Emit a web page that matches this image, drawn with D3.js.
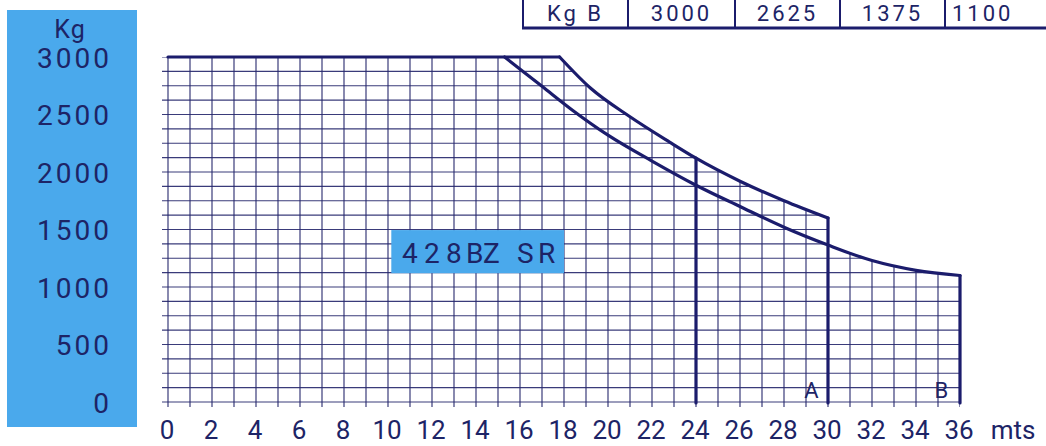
<!DOCTYPE html>
<html>
<head>
<meta charset="utf-8">
<script src="https://cdn.jsdelivr.net/npm/d3@7"></script>
<style>
  body { margin: 0; background: #fff; }
  svg { display: block; }
  text { font-family: Roboto, "DejaVu Sans", sans-serif; fill: #1d2466; }
</style>
</head>
<body>
<script>
// values
const distTicks = d3.range(0, 37, 2)
const kgTicks = [0, 500, 1000, 1500, 2000, 2500, 3000]
const gridDist = d3.range(0, 37, 1)
const gridKg = d3.range(0, 3001, 125)

// curve A (outer) and curve B (inner), metres -> kg
const curveA_m = [0, 17.8, 19.2, 21, 22.8, 24, 26, 28, 30]
const curveA_kg = [3000, 3000, 2730, 2480, 2260, 2120, 1920, 1750, 1600]
const curveB_m = [0, 15.3, 17, 18.4, 20, 22, 24, 26, 28, 30, 32, 34, 36]
const curveB_kg = [3000, 3000, 2745, 2535, 2320, 2095, 1885, 1700, 1520, 1365, 1230, 1145, 1100]

const tableHead = "Kg B"
const tableValues = [3000, 2625, 1375, 1100]
const modelName = "428BZ SR"

const W = 1046, H = 446
const navy = "#1b1c6c"
const blue = "#4aa9ec"

let svg = d3.select("body").append("svg")
    .attr("width", W)
    .attr("height", H)

let x = d3.scaleLinear().domain([0, 36]).range([168, 960])
let y = d3.scaleLinear().domain([0, 3000]).range([402, 57])

let ptsA = curveA_m.map((m, i) => [m, curveA_kg[i]])
let ptsB = curveB_m.map((m, i) => [m, curveB_kg[i]])

let straight = d3.line().x(d => x(d[0])).y(d => y(d[1]))
let smooth = d3.line().x(d => x(d[0])).y(d => y(d[1])).curve(d3.curveMonotoneX)

function kgAt(pts, m){
    let p = pts.find(d => d[0] == m)
    return p ? p[1] : 0
}

// blue panel behind the kg labels
svg.append("rect")
    .attr("x", 7).attr("y", 10)
    .attr("width", 130).attr("height", 417)
    .attr("fill", blue)

svg.append("text")
    .attr("x", 70).attr("y", 38)
    .attr("text-anchor", "middle")
    .attr("font-size", 25)
    .attr("letter-spacing", 1)
    .text("Kg")

svg.selectAll(".ylab")
    .data(kgTicks)
    .enter().append("text")
    .attr("class", "ylab")
    .attr("x", 112)
    .attr("y", d => y(d))
    .attr("dy", "0.38em")
    .attr("text-anchor", "end")
    .attr("font-size", 28)
    .attr("letter-spacing", 3)
    .text(d => d)

// clip region: area under the outer envelope
let tailB = ptsB.filter(d => d[0] >= 30)
let clipD = `M${x(0) - 6},${y(0) + 5}L${x(0) - 6},${y(3000)}`
    + straight(ptsA.slice(0, 2)).replace("M", "L")
    + smooth(ptsA.slice(1)).replace("M", "L")
    + smooth(tailB).replace("M", "L")
    + `L${x(36)},${y(0) + 5}Z`

svg.append("clipPath").attr("id", "under")
    .append("path").attr("d", clipD)

let grid = svg.append("g").attr("clip-path", "url(#under)")
    .attr("stroke", "#25266c")
    .attr("stroke-width", 1.2)
    .attr("stroke-opacity", 0.9)

grid.selectAll(".vl")
    .data(gridDist)
    .enter().append("line")
    .attr("x1", d => x(d)).attr("x2", d => x(d))
    .attr("y1", y(0) + 5).attr("y2", y(3000))

grid.selectAll(".hl")
    .data(gridKg)
    .enter().append("line")
    .attr("x1", x(0) - 6).attr("x2", x(36))
    .attr("y1", d => y(d)).attr("y2", d => y(d))

// model label box
svg.append("rect")
    .attr("x", x(10.15)).attr("y", y(1495))
    .attr("width", x(18) - x(10.15))
    .attr("height", y(1120) - y(1495))
    .attr("fill", blue)

svg.append("text")
    .attr("x", "402 424 446 466 483 501 517 538")
    .attr("y", y(1125) - 10)
    .attr("font-size", 28)
    .text(modelName)

// load curves
let lines = svg.append("g")
    .attr("fill", "none")
    .attr("stroke", navy)
    .attr("stroke-width", 3.2)
    .attr("stroke-linecap", "round")
    .attr("stroke-linejoin", "round")

lines.append("path").attr("d", straight(ptsA.slice(0, 2)))
lines.append("path").attr("d", smooth(ptsA.slice(1)))
lines.append("path").attr("d", smooth(ptsB.slice(1)))

let verticals = [[24, kgAt(ptsA, 24)], [30, kgAt(ptsA, 30)], [36, kgAt(ptsB, 36)]]
lines.selectAll(".vert")
    .data(verticals)
    .enter().append("line")
    .attr("x1", d => x(d[0])).attr("x2", d => x(d[0]))
    .attr("y1", d => y(d[1])).attr("y2", y(0) + 1)

svg.append("text").attr("x", x(29.25)).attr("y", 398)
    .attr("text-anchor", "middle").attr("font-size", 22).text("A")
svg.append("text").attr("x", x(35.15)).attr("y", 398)
    .attr("text-anchor", "middle").attr("font-size", 22).text("B")

// distance labels
svg.selectAll(".xlab")
    .data(distTicks)
    .enter().append("text")
    .attr("class", "xlab")
    .attr("x", d => x(d) - 1)
    .attr("y", 439)
    .attr("text-anchor", "middle")
    .attr("font-size", 26)
    .text(d => d)

svg.append("text")
    .attr("x", 1013).attr("y", 439)
    .attr("text-anchor", "middle")
    .attr("font-size", 26)
    .text("mts")

// table strip at the top right
let cellEdges = [523, 628, 735, 840, 945, 1052]
let cells = [tableHead].concat(tableValues)
let tbl = svg.append("g")
tbl.append("line")
    .attr("x1", cellEdges[0] - 1).attr("x2", W)
    .attr("y1", 28).attr("y2", 28)
    .attr("stroke", navy).attr("stroke-width", 3)
tbl.selectAll(".sep")
    .data(cellEdges.slice(0, 5))
    .enter().append("line")
    .attr("x1", d => d).attr("x2", d => d)
    .attr("y1", 0).attr("y2", 29)
    .attr("stroke", navy).attr("stroke-width", 2)
tbl.selectAll(".cell")
    .data(cells)
    .enter().append("text")
    .attr("x", (d, i) => i == 4 ? cellEdges[i] + 7 : (cellEdges[i] + cellEdges[i + 1]) / 2)
    .attr("y", 21)
    .attr("text-anchor", (d, i) => i == 4 ? "start" : "middle")
    .attr("font-size", 22)
    .attr("letter-spacing", 3)
    .text(d => d)
</script>
</body>
</html>
